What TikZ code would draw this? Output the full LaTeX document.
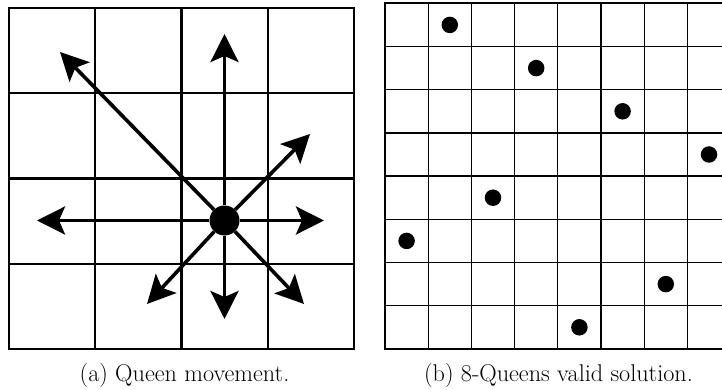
\documentclass[tikz,border=0pt]{standalone}
\usetikzlibrary{arrows.meta}
\begin{document}
\begin{tikzpicture}[x=1pt,y=-1pt,
  gridA/.style={line width=2.3pt},
  borderA/.style={line width=2.8pt},
  gridB/.style={line width=1.3pt},
  borderB/.style={line width=1.6pt},
  move/.style={line width=3.6pt, -{Stealth[length=28pt,width=28pt,inset=6pt]}},
  queenA/.style={circle, fill=black, minimum size=30pt, inner sep=0pt},
  queenB/.style={circle, fill=black, minimum size=16.5pt, inner sep=0pt},
  captext/.style={font=\fontsize{24.2}{29}\selectfont, anchor=base, inner sep=0pt}]
\useasboundingbox (0,0) rectangle (722,390);
\clip (0,0) rectangle (722,390);
% (a) 4x4 board
\foreach \i in {1,2,3} {
  \draw[gridA] (9+86.25*\i, 8) -- (9+86.25*\i, 349);
  \draw[gridA] (9, 8+85.25*\i) -- (354, 8+85.25*\i);
}
\draw[borderA] (9,8) rectangle (354,349);
\node[queenA] (q) at (224.5,220.5) {};
\coordinate (tU) at (224.5,34);
\coordinate (tD) at (224.5,319);
\coordinate (tL) at (37,220.5);
\coordinate (tR) at (324,220.5);
\coordinate (tNE) at (310,134);
\coordinate (tSE) at (304,304);
\coordinate (tSW) at (147,304);
\coordinate (tNW) at (60,52);
\foreach \t in {tU,tD,tL,tR,tNE,tSE,tSW,tNW}
  \draw[move] (q) -- (\t);
% (b) 8x8 board
\foreach \i in {1,...,7} {
  \draw[gridB] (385+43.2*\i, 3.3) -- (385+43.2*\i, 349);
  \draw[gridB] (385, 3.3+43.2*\i) -- (730.6, 3.3+43.2*\i);
}
\draw[borderB] (385,3.3) rectangle (730.6,349);
\foreach \r/\c in {1/2,2/4,3/6,4/8,5/3,6/1,7/7,8/5}
  \node[queenB] (b\r) at (385+43.2*\c-21.6, 3.3+43.2*\r-21.6) {};
% captions
\node[captext] (ca) at (184.5,381) {(a) Queen movement.};
\node[captext] (cb) at (558.5,381) {(b) 8-Queens valid solution.};
\end{tikzpicture}
\end{document}
